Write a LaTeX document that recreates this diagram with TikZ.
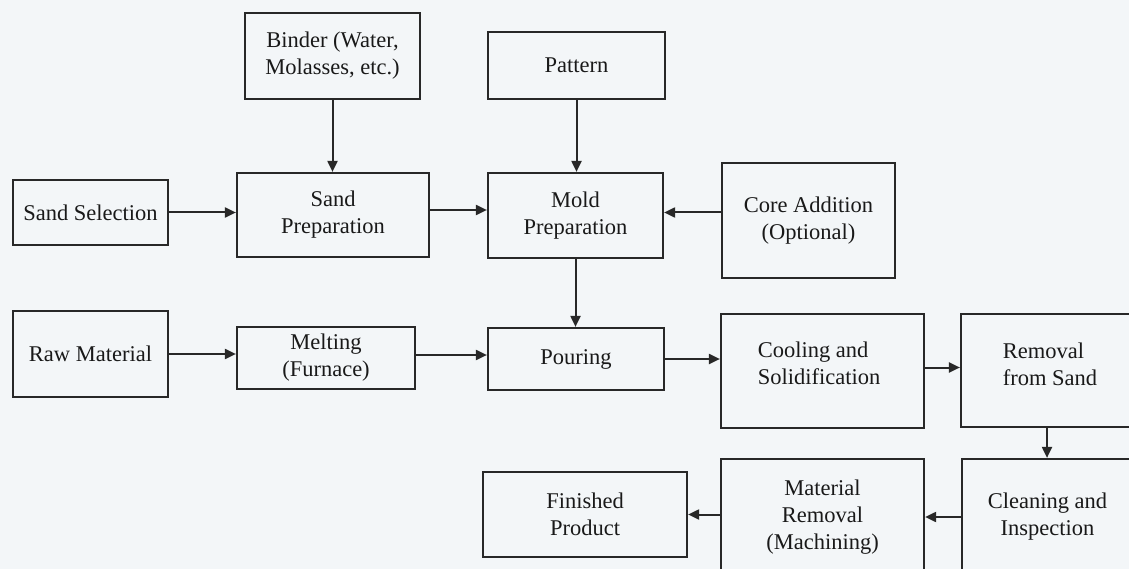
\documentclass[tikz,border=0pt]{standalone}
\usepackage{fontspec}
\setmainfont{Liberation Serif}
\newfontfamily\boxserif{Liberation Serif}
\usetikzlibrary{arrows.meta}
\definecolor{bgc}{RGB}{243,246,248}
\definecolor{linec}{RGB}{40,40,40}
\definecolor{txtc}{RGB}{25,25,25}
\tikzset{
  box/.style={draw=linec, line width=2.2pt, fill=bgc, rectangle, inner sep=0pt,
    text=txtc, align=center, font=\boxserif\fontsize{22.5}{27}\selectfont},
  boxtxt/.style={text=txtc, align=left, inner sep=0pt, font=\boxserif\fontsize{22.5}{27}\selectfont},
  flow/.style={draw=linec, line width=2pt, -{Triangle[length=11pt,width=10pt]}}
}
\begin{document}
\begin{tikzpicture}[x=1pt,y=-1pt]
\useasboundingbox (0,0) rectangle (1129,569);
\fill[bgc] (0,0) rectangle (1129,569);
\node[box, minimum width=175, minimum height=86] (binder) at (332.5,56) {Binder (Water,\\Molasses, etc.)};
\node[box, minimum width=177, minimum height=67] (pattern) at (576.5,65.5) {Pattern};
\node[box, minimum width=155, minimum height=65] (sandsel) at (90.5,212.5) {Sand Selection};
\node[box, minimum width=192, minimum height=84] (sandprep) at (333,215) {Sand\\Preparation};
\node[box, minimum width=175, minimum height=85] (mold) at (575.5,215.5) {Mold\\Preparation};
\node[box, minimum width=173, minimum height=115] (core) at (808.5,220.5) {Core Addition\\(Optional)};
\node[box, minimum width=155, minimum height=86] (raw) at (90.5,354) {Raw Material};
\node[box, minimum width=178, minimum height=62] (melt) at (326,358) {Melting\\(Furnace)};
\node[box, minimum width=176, minimum height=62] (pour) at (576,359) {Pouring};
\node[box, minimum width=203, minimum height=114] (cool) at (822.5,371) {};
\node[boxtxt] (cooltxt) at (819,363) {Cooling and\\Solidification};
\node[box, minimum width=172, minimum height=113] (removal) at (1047,370.5) {};
\node[boxtxt] (remtxt) at (1050,364) {Removal\\from Sand};
\node[box, minimum width=171, minimum height=116] (clean) at (1047.5,517) {Cleaning and\\Inspection};
\node[box, minimum width=203, minimum height=116] (matrem) at (822.5,517) {Material\\Removal\\(Machining)};
\node[box, minimum width=204, minimum height=85] (finished) at (585,514.5) {Finished\\Product};
\draw[flow] (binder.south) -- (binder.south |- sandprep.north);
\draw[flow] (pattern.south) -- (pattern.south |- mold.north);
\draw[flow] (sandsel.east) -- (sandsel.east -| sandprep.west);
\draw[flow] ([yshift=5pt]sandprep.east) -- ([yshift=5pt]sandprep.east -| mold.west);
\draw[flow] ([yshift=3pt]mold.east -| core.west) -- ([yshift=3pt]mold.east);
\draw[flow] (mold.south) -- (mold.south |- pour.north);
\draw[flow] (raw.east) -- (raw.east -| melt.west);
\draw[flow] ([yshift=3pt]melt.east) -- ([yshift=3pt]melt.east -| pour.west);
\draw[flow] (pour.east) -- (pour.east -| cool.west);
\draw[flow] ([yshift=3pt]removal.west -| cool.east) -- ([yshift=3pt]removal.west);
\draw[flow] (removal.south) -- (removal.south |- clean.north);
\draw[flow] (clean.west) -- (clean.west -| matrem.east);
\draw[flow] (finished.east -| matrem.west) -- (finished.east);
\end{tikzpicture}
\end{document}
